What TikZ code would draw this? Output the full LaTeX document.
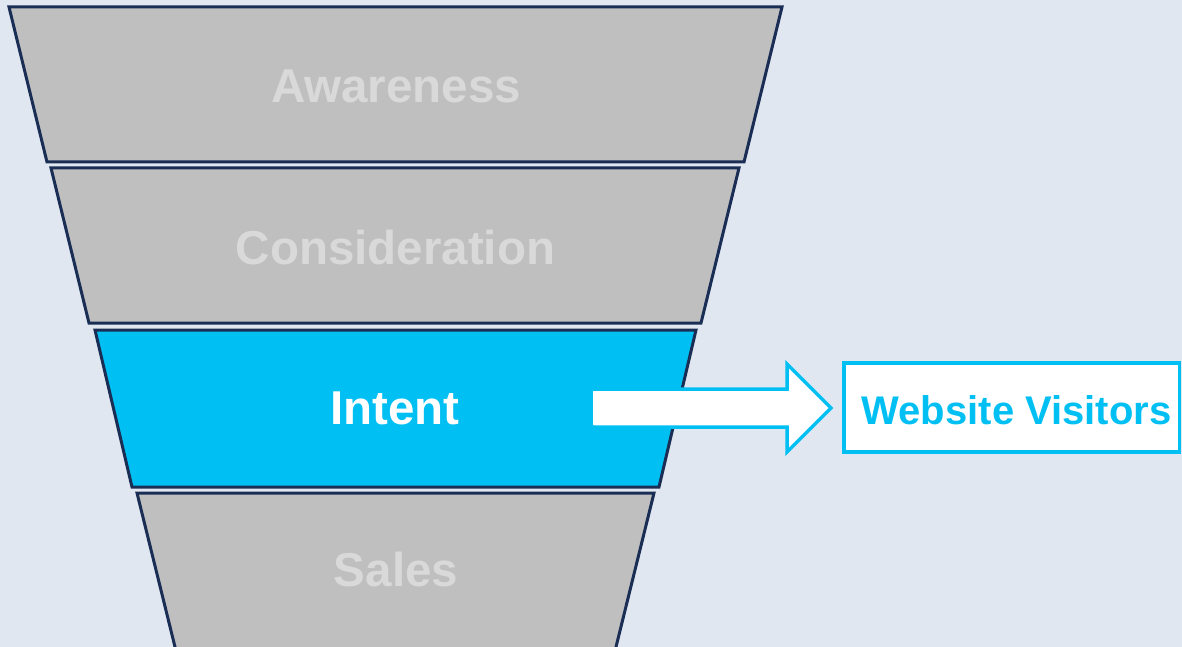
\documentclass[tikz,border=0pt]{standalone}
\usepackage{fontspec}
\setmainfont{Liberation Sans}
\definecolor{bgc}{HTML}{E0E7F1}
\definecolor{greyfill}{HTML}{BFBFBF}
\definecolor{greytext}{HTML}{D9D9D9}
\definecolor{cyanc}{HTML}{00BFF3}
\definecolor{navy}{HTML}{1A2E55}
\tikzset{
  stage/.style={draw=navy, line width=3pt, line join=miter},
  greystage/.style={stage, fill=greyfill},
  hotstage/.style={stage, fill=cyanc},
  stagelabel/.style={anchor=base, inner sep=0pt, font=\fontsize{47.5}{47.5}\selectfont\bfseries},
  bigarrow/.style={draw=cyanc, fill=white, line width=3.5pt, line join=miter},
  targetbox/.style={draw=cyanc, fill=white, line width=3.5pt},
  targetlabel/.style={anchor=base, inner sep=0pt, text=cyanc, font=\fontsize{40}{40}\selectfont\bfseries}
}
\begin{document}
\begin{tikzpicture}[x=1pt, y=-1pt]
  \fill[bgc] (0,0) rectangle (1182,647);
  \useasboundingbox (0,0) rectangle (1182,647);
  % funnel stages
  \draw[greystage] (9,7) -- (782,7) -- (744,162) -- (47,162) -- cycle;
  \draw[greystage] (51,168) -- (739,168) -- (701,323) -- (89,323) -- cycle;
  \draw[hotstage] (95,330) -- (696,330) -- (659,487) -- (132,487) -- cycle;
  \draw[greystage] (137,493) -- (654,493) -- (614,655) -- (177,655) -- cycle;
  % labels
  \node[stagelabel, text=greytext] (aw) at (396,103) {Awareness};
  \node[stagelabel, text=greytext] (co) at (395.5,264) {Consideration};
  \node[stagelabel, text=white] (in) at (395,424) {Intent};
  \node[stagelabel, text=greytext] (sa) at (396,586) {Sales};
  % target box
  \draw[targetbox] (844,363) rectangle (1179.5,452);
  \node[targetlabel] (wv) at (1016.5,424) {Website Visitors};
  \coordinate (box) at (844,408);
  % arrow
  \draw[bigarrow] (594,389) -- (787,389) -- (787,364) -- (831,408) -- (787,452) -- (787,427) -- (594,427);
  \fill[white] (592.5,390.75) rectangle (785.25,425.25);
\end{tikzpicture}
\end{document}
